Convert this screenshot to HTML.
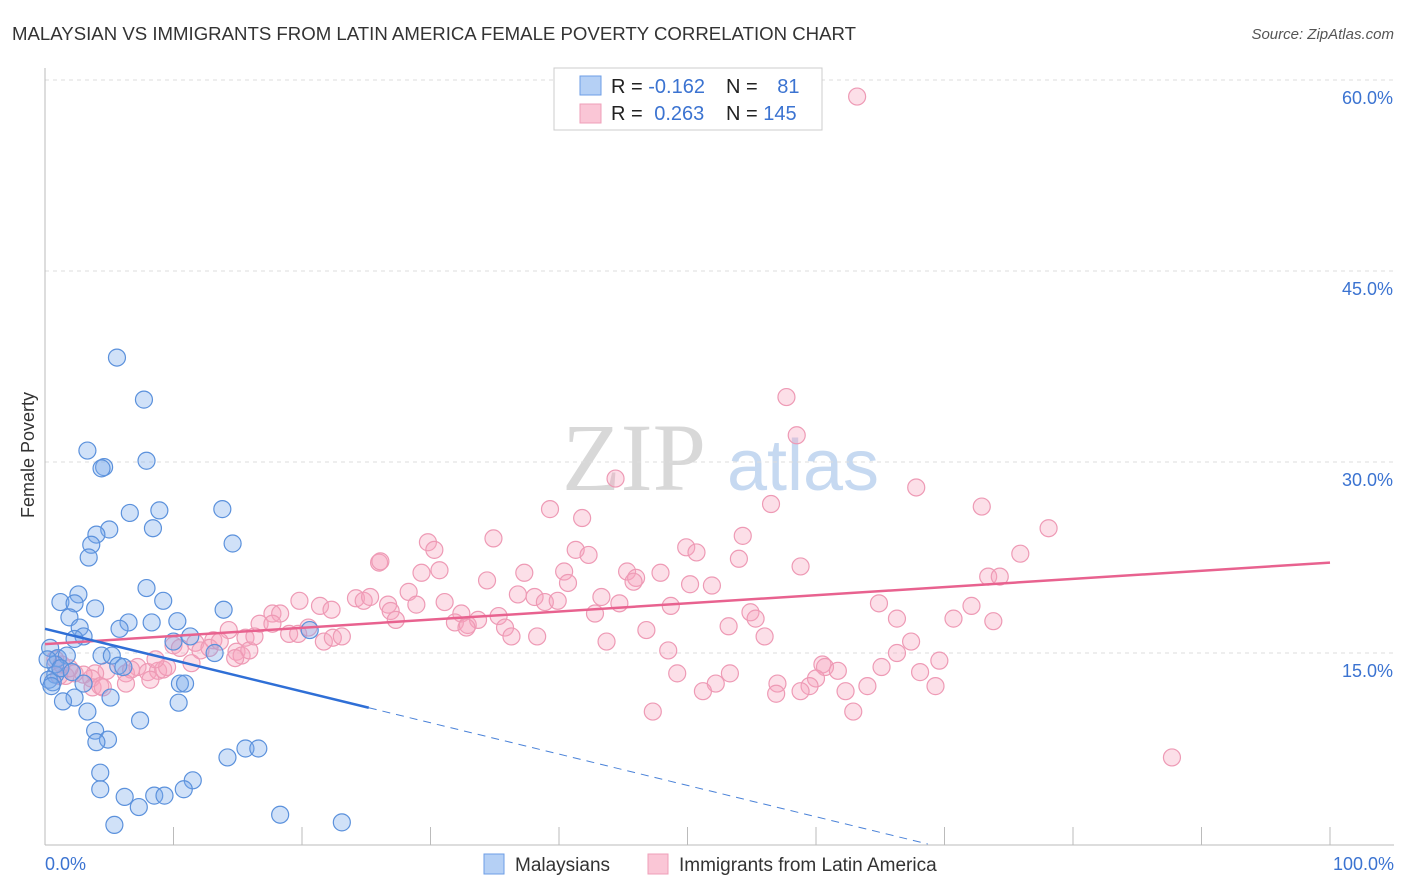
<!DOCTYPE html>
<html><head><meta charset="utf-8"><style>
body{margin:0;background:#fff;font-family:"Liberation Sans",sans-serif}
#c{position:relative;width:1406px;height:892px;overflow:hidden}
</style></head><body>
<div id="c">
<svg id="s" width="1406" height="892" xmlns="http://www.w3.org/2000/svg">
<text x="12" y="40" font-size="18.5" fill="#333" textLength="844" lengthAdjust="spacingAndGlyphs">MALAYSIAN VS IMMIGRANTS FROM LATIN AMERICA FEMALE POVERTY CORRELATION CHART</text>
<text x="1394" y="39" font-size="15" fill="#555" font-style="italic" text-anchor="end">Source: ZipAtlas.com</text>
<text x="634" y="490" font-size="96" fill="#d8d8d8" font-family="Liberation Serif, serif" text-anchor="middle">ZIP</text>
<text x="803" y="490" font-size="72" fill="#c6d9f1" text-anchor="middle">atlas</text>
<text transform="translate(34,455) rotate(-90)" font-size="18" fill="#333" text-anchor="middle">Female Poverty</text>
<g id="grid"></g><g id="pts"></g><g id="trend"></g>
<g>
<rect x="554" y="68" width="268" height="62" fill="#fff" stroke="#ccc"/>
<rect x="580" y="76" width="21" height="19" fill="#b5d0f5" stroke="#6d9ee6"/>
<rect x="580" y="104" width="21" height="19" fill="#fac6d6" stroke="#ef9fb8"/>
<text x="611" y="93" font-size="20" fill="#222">R = <tspan fill="#3b73d1">-0.162</tspan></text>
<text x="726" y="93" font-size="20" fill="#222">N = <tspan fill="#3b73d1" dx="14">81</tspan></text>
<text x="611" y="120" font-size="20" fill="#222">R = <tspan fill="#3b73d1" dx="6">0.263</tspan></text>
<text x="726" y="120" font-size="20" fill="#222">N = <tspan fill="#3b73d1">145</tspan></text>
</g>
<g>
<rect x="484" y="854" width="20" height="20" fill="#b5d0f5" stroke="#6d9ee6"/>
<text x="515" y="871" font-size="19" fill="#333">Malaysians</text>
<rect x="648" y="854" width="20" height="20" fill="#fac6d6" stroke="#ef9fb8"/>
<text x="679" y="871" font-size="19" fill="#333">Immigrants from Latin America</text>
</g>
<text x="45" y="870" font-size="18" fill="#3b73d1">0.0%</text>
<text x="1394" y="870" font-size="18" fill="#3b73d1" text-anchor="end">100.0%</text>
</svg>
</div>
<script>
const yTicks=[15,30,45,60];
const yTickLabels=["15.0%","30.0%","45.0%","60.0%"];
const blueX=[5.6,7.7,3.3,7.9,4.6,4.4,6.6,8.9,13.8,8.4,5.0,4.0,3.6,14.6,3.4,7.9,2.6,1.2,2.3,9.2,3.9,1.9,6.5,8.3,10.3,13.9,5.8,2.7,3.0,2.3,10.0,11.3,13.2,20.6,0.4,1.0,1.7,4.4,5.2,5.7,6.1,0.8,0.3,0.6,3.0,10.5,10.9,5.1,2.3,1.4,3.3,7.4,10.4,3.9,4.9,4.0,15.6,16.6,14.2,11.5,4.3,4.3,10.8,6.2,8.5,9.3,7.3,5.4,18.3,23.1,0.8,0.2,1.2,0.5,2.1];
const blueY=[38.2,34.9,30.9,30.1,29.6,29.5,26.0,26.2,26.3,24.8,24.7,24.3,23.5,23.6,22.5,20.1,19.6,19.0,18.9,19.1,18.5,17.8,17.4,17.4,17.5,18.4,16.9,17.0,16.3,16.1,15.9,16.3,15.0,16.8,15.4,14.6,14.8,14.8,14.8,14.0,13.9,13.3,12.9,12.7,12.6,12.6,12.6,11.5,11.5,11.2,10.4,9.7,11.1,8.9,8.2,8.0,7.5,7.5,6.8,5.0,5.6,4.3,4.3,3.7,3.8,3.8,2.9,1.5,2.3,1.7,14.1,14.5,13.8,12.4,13.5];
const pinkX=[63.2,57.7,58.5,44.4,67.8,56.5,72.9,39.3,41.8,78.1,34.9,54.3,29.8,30.3,41.3,42.3,49.9,50.7,75.9,54.0,26.0,26.1,40.4,37.3,45.3,47.9,29.3,30.7,58.8,34.4,40.7,46.0,50.2,51.9,45.8,73.4,74.3,28.3,24.2,24.8,25.3,36.8,38.1,38.9,39.9,43.3,44.7,19.8,21.4,22.3,26.7,28.9,31.1,32.4,26.9,17.7,18.3,16.7,17.7,19.0,19.7,20.5,27.3,31.9,32.9,33.7,35.3,35.8,42.8,48.7,54.9,55.3,64.9,66.3,70.7,72.1,73.8,53.2,56.0,46.8,32.8,21.7,22.4,23.1,36.3,38.3,43.7,13.1,14.3,15.6,14.9,15.3,15.9,11.7,12.1,11.4,12.8,16.3,10.0,10.5,48.5,67.4,65.1,66.3,69.6,68.1,69.3,60.5,60.7,61.7,60.0,57.0,59.5,56.9,58.8,53.3,52.2,51.2,62.3,64.0,62.9,47.3,49.2,7.2,8.0,8.8,9.2,9.5,6.3,6.7,4.8,3.9,3.6,3.0,2.3,1.1,1.6,3.7,4.3,4.5,8.2,6.3,87.7,0.8,1.3,1.9,13.6,14.8,8.6];
const pinkY=[58.7,35.1,32.1,28.7,28.0,26.7,26.5,26.3,25.6,24.8,24.0,24.2,23.7,23.1,23.1,22.7,23.3,22.9,22.8,22.4,22.1,22.2,21.4,21.3,21.4,21.3,21.3,21.5,21.8,20.7,20.5,20.9,20.4,20.3,20.6,21.0,21.0,19.8,19.3,19.1,19.4,19.6,19.4,19.0,19.1,19.4,18.9,19.1,18.7,18.4,18.8,18.8,19.0,18.1,18.3,18.1,18.1,17.3,17.3,16.5,16.5,17.0,17.6,17.4,17.2,17.6,17.9,17.0,18.1,18.7,18.2,17.7,18.9,17.7,17.7,18.7,17.5,17.1,16.3,16.8,17.0,15.9,16.2,16.3,16.3,16.3,15.9,16.0,16.8,16.2,15.1,14.8,15.2,15.8,15.2,14.2,15.4,16.3,15.6,15.4,15.2,15.9,13.9,15.0,14.4,13.5,12.4,14.1,13.9,13.6,13.0,12.6,12.4,11.8,12.0,13.4,12.6,12.0,12.0,12.4,10.4,10.4,13.4,13.9,13.5,13.6,13.7,13.9,13.4,13.7,13.6,13.4,13.0,13.3,13.4,13.2,13.2,12.3,12.4,12.3,12.9,12.6,6.8,14.5,14.1,13.8,15.9,14.6,14.5];
const blueTrend=[16.9,-0.246];
const pinkTrend=[15.7,0.064];

const NS="http://www.w3.org/2000/svg";
const X=v=>45+v*12.85;
const Y=v=>844-v*12.733;
function mk(t,a,p){const e=document.createElementNS(NS,t);for(const k in a)e.setAttribute(k,a[k]);p.appendChild(e);return e;}
const grid=document.getElementById('grid');
yTicks.forEach((t,i)=>{
  const l=mk('line',{x1:45,x2:1394,y1:Y(t),y2:Y(t),stroke:'#ddd','stroke-dasharray':'4,4'},grid);
  
  
  const tx=mk('text',{x:1393,y:Y(t)+24,'font-size':18,fill:'#3b73d1','text-anchor':'end'},grid);
  tx.textContent=yTickLabels[i];
  
  
});
let ax=mk('line',{x1:45,x2:45,y1:68,y2:845,stroke:'#bbb'},grid);


ax=mk('line',{x1:45,x2:1394,y1:845,y2:845,stroke:'#bbb'},grid);


for(let i=1;i<=10;i++){
  const t=mk('line',{x1:X(i*10),x2:X(i*10),y1:827,y2:845,stroke:'#bbb'},grid);
  
  
}
const pts=document.getElementById('pts');
pinkX.forEach((x,i)=>{
  const c=mk('circle',{cx:X(x),cy:Y(pinkY[i]),r:8.5,fill:'rgba(246,164,190,0.35)',stroke:'#ee9ab5','stroke-width':1.2},pts);
  
  
});
blueX.forEach((x,i)=>{
  const c=mk('circle',{cx:X(x),cy:Y(blueY[i]),r:8.5,fill:'rgba(120,170,235,0.35)',stroke:'#5b91dc','stroke-width':1.2},pts);
  
  
});
const tr=document.getElementById('trend');
const f=(t,x)=>t[0]+t[1]*x;
let l=mk('line',{x1:X(0),y1:Y(f(pinkTrend,0)),x2:X(100),y2:Y(f(pinkTrend,100)),stroke:'#e8628f','stroke-width':2.5},tr);


const xe=25.2, x0=-blueTrend[0]/blueTrend[1];
l=mk('line',{x1:X(0),y1:Y(f(blueTrend,0)),x2:X(xe),y2:Y(f(blueTrend,xe)),stroke:'#2f6fd6','stroke-width':2.5},tr);


l=mk('line',{x1:X(xe),y1:Y(f(blueTrend,xe)),x2:X(x0),y2:Y(0),stroke:'#4a82d8','stroke-width':1,'stroke-dasharray':'8,6'},tr);


</script>
</body></html>
